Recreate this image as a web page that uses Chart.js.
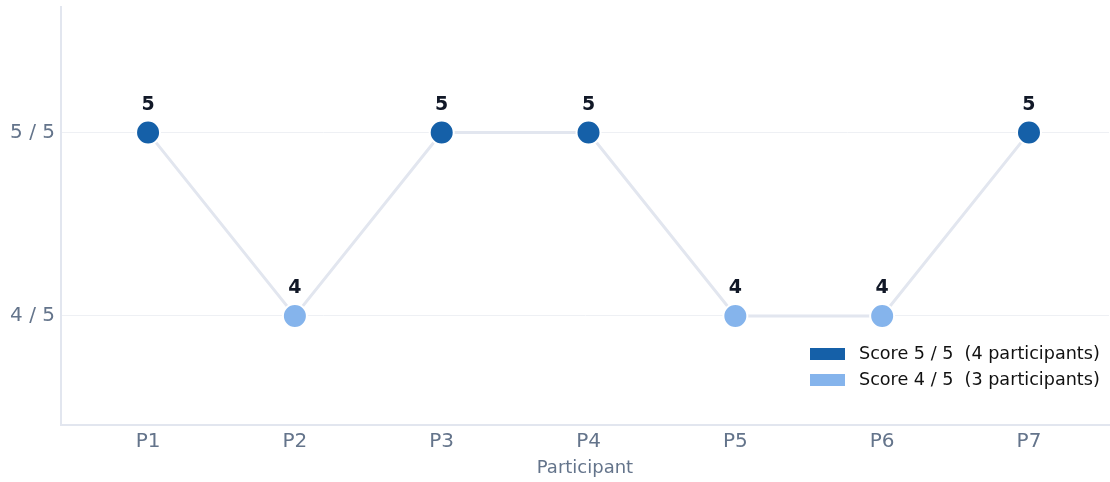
<!DOCTYPE html>
<html>
<head>
<meta charset="utf-8">
<script src="https://cdn.jsdelivr.net/npm/chart.js@4/dist/chart.umd.min.js"></script>
<style>
  html, body { margin: 0; padding: 0; background: #fff; overflow: hidden; }
  canvas { display: block; }
</style>
</head>
<body>
<canvas id="scoreChart" width="1110" height="482" style="width:1110px;height:482px"></canvas>
<script>
// data
var participants = ['P1', 'P2', 'P3', 'P4', 'P5', 'P6', 'P7'];
var scores = [5, 4, 5, 5, 4, 4, 5];
var scoreTicks = [4, 5];
var legendLabels = ['Score 5 / 5  (4 participants)', 'Score 4 / 5  (3 participants)'];

var darkBlue = '#1560a8';
var lightBlue = '#85b4ec';
var fontFamily = '"DejaVu Sans", sans-serif';

var points = scores.map(function (s, i) { return { x: i + 1, y: s }; });
var pointColors = scores.map(function (s) { return s === 5 ? darkBlue : lightBlue; });

// value labels above each dot
var valueLabels = {
  id: 'valueLabels',
  afterDatasetsDraw: function (chart) {
    var ctx = chart.ctx;
    var meta = chart.getDatasetMeta(0);
    ctx.save();
    ctx.font = 'bold 19px ' + fontFamily;
    ctx.fillStyle = '#111827';
    ctx.textAlign = 'center';
    ctx.textBaseline = 'middle';
    meta.data.forEach(function (pt, i) {
      ctx.fillText(String(scores[i]), pt.x, pt.y - 28);
    });
    ctx.restore();
  }
};

// legend drawn inside the plot, bottom right
var cornerLegend = {
  id: 'cornerLegend',
  afterDraw: function (chart) {
    var ctx = chart.ctx;
    var area = chart.chartArea;
    var colors = [darkBlue, lightBlue];
    ctx.save();
    ctx.font = '17.6px ' + fontFamily;
    ctx.textBaseline = 'middle';
    ctx.textAlign = 'left';
    legendLabels.forEach(function (txt, i) {
      var y = area.bottom - 71 + i * 26;
      ctx.fillStyle = colors[i];
      ctx.fillRect(area.right - 299, y - 6, 35, 12);
      ctx.fillStyle = '#111111';
      ctx.fillText(txt, area.right - 250, y);
    });
    ctx.restore();
  }
};

var ctx = document.getElementById('scoreChart').getContext('2d');
var chart = new Chart(ctx, {
  type: 'line',
  data: {
    datasets: [{
      data: points,
      borderColor: '#e2e6ef',
      borderWidth: 3,
      pointBackgroundColor: pointColors,
      pointBorderColor: '#ffffff',
      pointBorderWidth: 2,
      pointRadius: 12,
      pointHoverRadius: 12,
      tension: 0,
      clip: false
    }]
  },
  options: {
    responsive: false,
    animation: false,
    layout: { autoPadding: false, padding: { top: 7, right: 1, left: 0, bottom: 5 } },
    plugins: {
      legend: { display: false },
      tooltip: { enabled: false }
    },
    scales: {
      x: {
        type: 'linear',
        min: 0.407,
        max: 7.545,
        afterBuildTicks: function (axis) {
          axis.ticks = participants.map(function (p, i) { return { value: i + 1 }; });
        },
        afterFit: function (axis) { axis.paddingLeft = 0; axis.paddingRight = 0; },
        ticks: {
          autoSkip: false,
          color: '#64748b',
          font: { family: fontFamily, size: 20 },
          padding: 5,
          callback: function (v) { return participants[v - 1]; }
        },
        grid: { display: false, drawTicks: false },
        border: { color: '#e2e6ef', width: 2 },
        title: {
          display: true,
          text: 'Participant',
          color: '#64748b',
          font: { family: fontFamily, size: 18, lineHeight: 1 },
          padding: { top: 0, bottom: 0 }
        }
      },
      y: {
        min: 3.405,
        max: 5.685,
        afterBuildTicks: function (axis) {
          axis.ticks = scoreTicks.map(function (v) { return { value: v }; });
        },
        afterFit: function (axis) {
          axis.width = 61;
          axis.paddingTop = 0;
          axis.paddingBottom = 0;
        },
        ticks: {
          color: '#64748b',
          font: { family: fontFamily, size: 20 },
          padding: 6,
          callback: function (v) { return v + ' / 5'; }
        },
        grid: { color: '#eef0f4', lineWidth: 1, drawTicks: false },
        border: { color: '#e2e6ef', width: 2 }
      }
    }
  },
  plugins: [valueLabels, cornerLegend]
});
</script>
</body>
</html>
